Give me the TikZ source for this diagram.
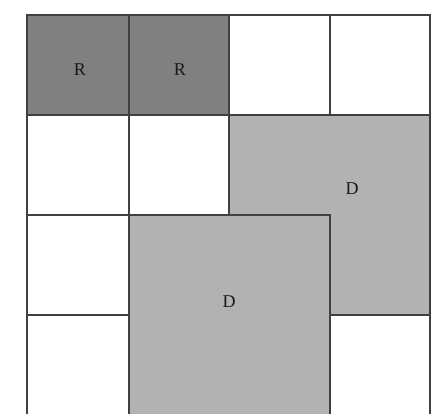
\documentclass[tikz,border=0pt]{standalone}
\usepackage{fontspec}
\setmainfont{Liberation Serif}
\begin{document}
\begin{tikzpicture}[x=1pt,y=-1pt,
  gridline/.style={draw=black!75,line width=1.3pt},
  rcell/.style={fill=black!50,draw=black!75,line width=1.3pt},
  dsq/.style={fill=black!30,draw=black!75,line width=1.3pt},
  lbl/.style={font=\fontsize{18}{18}\selectfont,text=black!90}]
\useasboundingbox (0,0) rectangle (434,414);
\fill[white] (0,0) rectangle (434,414);
% R cells
\path[rcell] (27,15) rectangle (129,115);
\path[rcell] (129,15) rectangle (229,115);
% grid
\draw[gridline] (27,15) rectangle (430,418);
\foreach \x in {129,229,330} \draw[gridline] (\x,15) -- (\x,418);
\foreach \y in {115,215,315} \draw[gridline] (27,\y) -- (430,\y);
% D squares
\path[dsq] (229,115) rectangle (430,315);
\path[dsq] (129,215) rectangle (330,418);
% labels
\node[lbl] (r1) at (80,70) {R};
\node[lbl] (r2) at (180,70) {R};
\node[lbl] (d1) at (352,189) {D};
\node[lbl] (d2) at (229,302) {D};
\end{tikzpicture}
\end{document}
